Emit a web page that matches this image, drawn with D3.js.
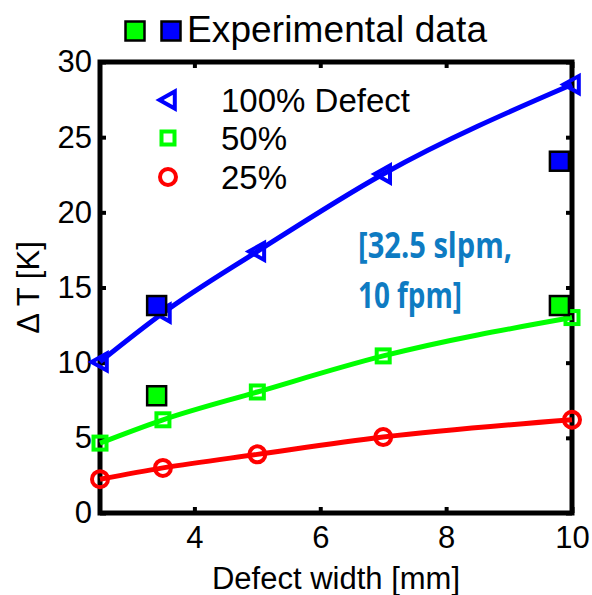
<!DOCTYPE html>
<html>
<head>
<meta charset="utf-8">
<script src="https://cdn.jsdelivr.net/npm/d3@7"></script>
<style>
  html, body { margin: 0; padding: 0; background: #fff; }
  text { font-family: "Liberation Sans", Arial, sans-serif; }
</style>
</head>
<body>
<svg id="chart" width="592" height="595"></svg>
<script>
// ---- data ----
const widths = [2.5, 3.5, 5, 7, 10];
const defect100 = [10.05, 13.3, 17.4, 22.55, 28.5];
const defect50 = [4.65, 6.2, 8.05, 10.45, 13.0];
const defect25 = [2.25, 3.0, 3.9, 5.05, 6.2];
const expWidths = [3.4, 9.8];
const exp100 = [13.8, 23.4];
const exp50 = [7.8, 13.8];
const xTicks = [4, 6, 8, 10];
const yTicks = [0, 5, 10, 15, 20, 25, 30];
const legendLabels = ["100% Defect", "50%", "25%"];
const titleText = "Experimental data";
const noteLines = ["[32.5 slpm,", "10 fpm]"];

const svg = d3.select("#chart");
const M = { left: 100, right: 572, top: 62, bottom: 513 };
const x = d3.scaleLinear().domain([2.5, 10]).range([M.left, M.right]);
const y = d3.scaleLinear().domain([0, 30]).range([M.bottom, M.top]);

const BLUE = "#0000ff", GREEN = "#00ff00", RED = "#ff0000";
const FS = 31;

// axes (ticks inward)
const gx = svg.append("g").attr("transform", `translate(0,${M.bottom})`)
  .call(d3.axisBottom(x).tickValues(xTicks).tickSizeInner(-6).tickSizeOuter(0).tickPadding(13));
const gxt = svg.append("g").attr("transform", `translate(0,${M.top})`)
  .call(d3.axisTop(x).tickValues(xTicks).tickSizeInner(-6).tickSizeOuter(0).tickFormat(""));
const gy = svg.append("g").attr("transform", `translate(${M.left},0)`)
  .call(d3.axisLeft(y).tickValues(yTicks).tickSizeInner(-6).tickSizeOuter(0).tickPadding(8));
const gyr = svg.append("g").attr("transform", `translate(${M.right},0)`)
  .call(d3.axisRight(y).tickValues(yTicks).tickSizeInner(-6).tickSizeOuter(0).tickFormat(""));
[gx, gxt, gy, gyr].forEach(g => {
  g.select(".domain").remove();
  g.selectAll(".tick line").attr("stroke", "#000").attr("stroke-width", 4);
  g.selectAll(".tick text").attr("font-size", FS).attr("fill", "#000")
    .style("font-family", '"Liberation Sans", Arial, sans-serif');
});

// frame
svg.append("rect").attr("x", M.left).attr("y", M.top)
  .attr("width", M.right - M.left).attr("height", M.bottom - M.top)
  .attr("fill", "none").attr("stroke", "#000").attr("stroke-width", 5);

// curves
const line = d3.line().x(d => x(d[0])).y(d => y(d[1])).curve(d3.curveMonotoneX);
const series = [
  { vals: defect100, color: BLUE, shape: "tri" },
  { vals: defect50, color: GREEN, shape: "sq" },
  { vals: defect25, color: RED, shape: "circ" }
];
series.forEach(s => {
  svg.append("path").datum(widths.map((w, i) => [w, s.vals[i]]))
    .attr("d", line).attr("fill", "none").attr("stroke", s.color).attr("stroke-width", 5);
});

function marker(g, shape, cx, cy, color) {
  if (shape === "tri") {
    const s = 8.5;
    g.append("path").attr("d", `M${cx - s},${cy} L${cx + s * 0.8},${cy - s} L${cx + s * 0.8},${cy + s} Z`)
      .attr("fill", "none").attr("stroke", color).attr("stroke-width", 4).attr("stroke-linejoin", "miter");
  } else if (shape === "sq") {
    const s = 6.5;
    g.append("rect").attr("x", cx - s).attr("y", cy - s).attr("width", 2 * s).attr("height", 2 * s)
      .attr("fill", "none").attr("stroke", color).attr("stroke-width", 4);
  } else {
    g.append("circle").attr("cx", cx).attr("cy", cy).attr("r", 8)
      .attr("fill", "none").attr("stroke", color).attr("stroke-width", 4);
  }
}

const gm = svg.append("g");
series.forEach(s => {
  widths.forEach((w, i) => marker(gm, s.shape, x(w), y(s.vals[i]), s.color));
});

// experimental squares
function expSquare(cx, cy, color, s) {
  svg.append("rect").attr("x", cx - s / 2).attr("y", cy - s / 2).attr("width", s).attr("height", s)
    .attr("fill", color).attr("stroke", "#000").attr("stroke-width", 2.5);
}
expWidths.forEach((w, i) => {
  expSquare(x(w), y(exp100[i]), BLUE, 19);
  expSquare(x(w), y(exp50[i]), GREEN, 19);
});

// legend
const legY = [100, 138, 177];
series.forEach((s, i) => {
  marker(svg, s.shape, 168, legY[i], s.color);
  svg.append("text").attr("x", 221).attr("y", legY[i] + 12).attr("font-size", 33)
    .attr("fill", "#000").text(legendLabels[i]);
});

// title with squares
expSquare(135, 31, GREEN, 19);
expSquare(171, 31, BLUE, 19);
svg.append("text").attr("x", 187).attr("y", 42).attr("font-size", 37)
  .attr("fill", "#000").attr("textLength", 300).text(titleText);

// annotation
const noteLen = [154, 104];
noteLines.forEach((t, i) => {
  svg.append("text").attr("x", 358).attr("y", 258 + i * 50)
    .attr("font-size", 35).attr("font-weight", "bold").attr("fill", "#0E7BC2")
    .attr("textLength", noteLen[i]).attr("lengthAdjust", "spacingAndGlyphs")
    .style("font-family", '"Open Sans", Lato, sans-serif').text(t);
});

// axis labels
svg.append("text").attr("x", (M.left + M.right) / 2).attr("y", 589).attr("text-anchor", "middle")
  .attr("font-size", FS).attr("fill", "#000").text("Defect width [mm]");
svg.append("text").attr("transform", `translate(39,${(M.top + M.bottom) / 2}) rotate(-90)`)
  .attr("text-anchor", "middle").attr("font-size", FS).attr("fill", "#000").text("\u0394 T [K]");
</script>
</body>
</html>
